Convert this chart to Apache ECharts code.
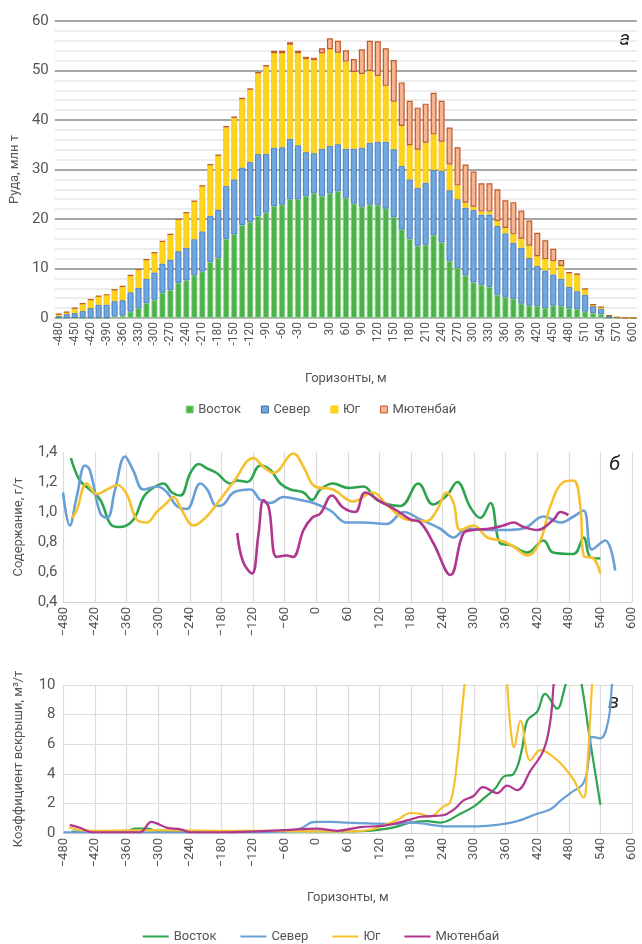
<!DOCTYPE html>
<html><head><meta charset="utf-8">
<script src="https://cdn.jsdelivr.net/npm/echarts@6/dist/echarts.min.js"></script>
<style>html,body{margin:0;padding:0;background:#fff}#c{width:642px;height:944px}</style>
</head><body><div id="c"></div>
<script>
// Горизонты (категории верхнего графика), м
const horizons = [-480,-465,-450,-435,-420,-405,-390,-375,-360,-345,-330,-315,-300,-285,-270,-255,-240,-225,-210,-195,-180,-165,-150,-135,-120,-105,-90,-75,-60,-45,-30,-15,0,15,30,45,60,75,90,105,120,135,150,165,180,195,210,225,240,255,270,285,300,315,330,345,360,375,390,405,420,435,450,465,480,495,510,525,540,555,570,585,600];
// Руда, млн т (сегменты стека)
const oreVostok = [0,0,0,0,0,0,0,0.3,0.5,1.3,2.0,3.0,3.7,5.1,5.7,7.1,7.6,8.6,9.4,11.3,12.1,16.0,16.9,18.8,19.4,20.6,21.3,22.6,22.9,24.0,24.0,24.6,25.2,24.6,25.2,25.6,24.2,23.1,22.5,22.9,22.8,22.1,20.4,17.9,16.0,14.6,14.8,16.7,15.3,11.5,10.1,8.6,7.2,6.7,6.3,4.7,4.2,3.9,2.9,2.5,2.4,2.0,2.5,2.4,2.0,1.8,1.3,1.0,0.8,0,0,0,0];
const oreSever = [0.4,0.8,1.0,1.4,2.0,2.7,2.7,3.1,3.1,3.9,4.1,4.9,5.5,5.9,6.1,6.4,6.6,7.3,8.1,9.3,9.8,10.7,11.1,11.6,12.1,12.5,11.9,11.8,11.6,12.2,10.9,8.9,8.1,9.6,9.6,9.5,10.0,11.1,11.9,12.5,12.8,13.5,13.7,12.8,12.0,11.7,12.5,13.2,14.4,14.3,13.9,13.7,14.6,14.2,14.6,13.9,12.9,11.3,11.3,9.6,8.1,7.6,6.3,5.5,4.3,3.6,3.4,1.4,1.0,0.5,0.15,0,0];
const oreYug = [0.4,0.4,1.0,1.5,1.7,1.7,2.0,2.3,2.8,3.4,3.7,3.9,4.0,4.5,5.1,6.4,7.1,7.7,9.2,10.4,11.0,11.8,12.4,13.8,14.6,16.3,17.6,19.1,19.0,19.0,18.6,18.8,18.8,19.3,19.5,18.5,17.6,15.5,14.9,14.5,13.3,11.3,9.6,8.1,6.9,7.7,8.1,7.2,5.9,5.2,2.8,1.0,0.7,0.6,0.6,1.0,1.1,1.7,1.8,2.5,2.0,2.3,2.7,2.6,2.7,3.3,1.2,0.3,0.4,0,0,0,0];
const oreMyuten = [0,0,0,0,0,0,0,0,0,0,0,0,0,0,0,0,0,0,0,0,0,0.3,0.3,0.3,0.3,0.3,0.3,0.5,0.5,0.5,0.5,0.5,0.5,1.0,2.2,2.4,2.3,2.6,5.0,6.1,7.0,7.6,8.4,8.8,9.0,8.5,7.9,8.4,8.3,7.5,7.7,7.7,7.1,5.7,5.7,6.4,5.6,6.5,5.7,5.1,4.7,3.8,2.5,1.2,0.3,0.3,0,0,0,0,0,0,0];

// Содержание, г/т  [горизонт, значение]
const gradeVostok = [[-466,1.36],[-449,1.21],[-430,1.15],[-410,1.08],[-388,0.91],[-372,0.90],[-347,0.95],[-328,1.10],[-310,1.16],[-290,1.19],[-274,1.13],[-258,1.11],[-239,1.26],[-223,1.32],[-207,1.29],[-189,1.26],[-163,1.19],[-150,1.21],[-131,1.20],[-106,1.31],[-87,1.28],[-68,1.19],[-49,1.15],[-24,1.13],[-8,1.08],[8,1.15],[32,1.19],[61,1.16],[90,1.17],[116,1.08],[160,1.04],[194,1.19],[222,1.05],[248,1.11],[268,1.20],[293,1.03],[312,0.96],[331,1.06],[350,0.79],[369,0.78],[401,0.73],[432,0.81],[450,0.73],[489,0.72],[508,0.83],[521,0.70],[540,0.69]];
const gradeSever = [[-481,1.13],[-468,0.91],[-455,1.10],[-439,1.31],[-430,1.28],[-410,0.99],[-397,0.96],[-382,1.15],[-363,1.37],[-348,1.28],[-328,1.15],[-302,1.17],[-283,1.13],[-265,1.04],[-246,1.02],[-220,1.19],[-207,1.15],[-189,1.04],[-176,1.05],[-157,1.13],[-125,1.15],[-106,1.08],[-87,1.06],[-62,1.10],[-30,1.08],[-5,1.06],[27,1.01],[58,0.93],[90,0.93],[134,0.92],[166,1.00],[198,0.95],[235,0.89],[261,0.83],[286,0.89],[325,0.88],[356,0.88],[394,0.89],[432,0.97],[464,0.93],[489,0.97],[508,1.01],[524,0.75],[549,0.81],[568,0.61]];
const gradeYug = [[-464,0.96],[-455,1.01],[-436,1.19],[-417,1.12],[-397,1.15],[-378,1.18],[-360,1.12],[-341,0.95],[-322,0.93],[-303,1.00],[-284,1.06],[-271,1.10],[-255,1.01],[-233,0.91],[-208,0.97],[-183,1.08],[-157,1.20],[-119,1.36],[-100,1.30],[-81,1.26],[-43,1.39],[-24,1.30],[-2,1.17],[32,1.15],[70,1.07],[108,1.13],[134,1.05],[172,0.95],[210,0.94],[229,1.01],[248,1.13],[261,1.06],[274,0.88],[299,0.91],[325,0.83],[350,0.81],[375,0.77],[401,0.71],[426,0.81],[445,1.04],[470,1.20],[489,1.21],[502,1.03],[508,0.71],[527,0.69],[540,0.59]];
const gradeMyuten = [[-150,0.86],[-139,0.67],[-122,0.59],[-110,0.84],[-100,1.08],[-90,1.03],[-75,0.70],[-56,0.71],[-44,0.70],[-24,0.88],[-8,0.96],[8,0.99],[30,1.11],[51,1.03],[74,1.00],[93,1.13],[122,1.07],[153,1.01],[179,0.95],[198,0.93],[223,0.79],[255,0.58],[280,0.86],[299,0.88],[331,0.89],[356,0.91],[375,0.93],[394,0.90],[420,0.88],[451,0.95],[464,1.00],[479,0.98]];

// Коэффициент вскрыши, м3/т  [горизонт, значение]
const stripVostok = [[-465,0.1],[-420,0.1],[-360,0.1],[-345,0.3],[-320,0.3],[-300,0.1],[-240,0.1],[-120,0.1],[0,0.1],[60,0.1],[114,0.2],[150,0.4],[179,0.7],[210,0.8],[236,0.7],[274,1.3],[300,1.8],[317,2.3],[340,3.0],[356,3.8],[375,4.0],[390,5.5],[401,7.6],[420,8.2],[435,9.4],[458,8.4],[470,9.5],[477,10.5],[490,12],[502,10.5],[521,6.1],[540,1.9]];
const stripSever = [[-480,0.05],[-360,0.05],[-240,0.05],[-120,0.05],[-60,0.1],[-30,0.3],[-10,0.7],[0,0.75],[30,0.75],[60,0.7],[100,0.65],[150,0.6],[179,0.7],[210,0.6],[242,0.45],[306,0.45],[344,0.55],[382,0.8],[420,1.3],[445,1.6],[465,2.2],[483,2.7],[508,3.4],[518,5.0],[524,6.5],[540,6.4],[555,7.6],[562,10],[570,12]];
const stripYug = [[-470,0.4],[-450,0.2],[-420,0.15],[-300,0.2],[-180,0.15],[-60,0.15],[0,0.1],[60,0.1],[100,0.2],[127,0.5],[155,0.9],[179,1.35],[198,1.3],[215,1.1],[241,1.77],[255,2.1],[268,4.9],[277,8.3],[283,10.5],[290,14],[355,14],[363,10],[369,7.2],[376,5.8],[388,7.6],[407,4.9],[426,5.6],[445,5.3],[470,4.5],[489,3.6],[508,2.4],[514,4.0],[524,10],[530,14]];
const stripMyuten = [[-468,0.55],[-449,0.35],[-424,0.05],[-380,0.05],[-335,0.05],[-313,0.75],[-303,0.65],[-283,0.35],[-258,0.25],[-239,0.05],[-180,0.05],[-120,0.1],[-60,0.2],[0,0.3],[40,0.15],[84,0.4],[130,0.5],[179,0.9],[198,1.1],[241,1.2],[262,1.6],[280,2.2],[299,2.5],[317,3.1],[344,2.7],[363,3.2],[382,2.9],[407,4.2],[432,5.6],[445,7.6],[451,10],[460,13]];

const names = ['Восток','Север','Юг','Мютенбай'];
const FONT = "'Roboto',sans-serif";
const TXT = '#555';
const lineColors = ['#2ea44f','#6a9fd6','#f6c131','#b0368e'];
const barFill = ['#4db24a','#6fa7df','#ffd41e','#f6b591'];
const barBorder = ['#88d585','#3e70b4','#f8cc10','#c2592a'];
const minus = v => String(v).replace('-', '\u2212');
const comma = v => v.toFixed(1).replace('.', ',');

const chart = echarts.init(document.getElementById('c'), null, {renderer:'canvas'});
const barData = [oreVostok, oreSever, oreYug, oreMyuten];
const gradeData = [gradeVostok, gradeSever, gradeYug, gradeMyuten];
const stripData = [stripVostok, stripSever, stripYug, stripMyuten];

const series = [];
names.forEach((n,i)=>series.push({
  name:n, type:'bar', stack:'ore', xAxisIndex:0, yAxisIndex:0, data:barData[i],
  barCategoryGap:'25%',
  itemStyle:{color:barFill[i], borderColor:barBorder[i], borderWidth: i===3?1.2:0.8},
  emphasis:{disabled:true}
}));
names.forEach((n,i)=>series.push({
  name:n, type:'line', xAxisIndex:1, yAxisIndex:1, data:gradeData[i], smooth:0.4,
  showSymbol:false, lineStyle:{color:lineColors[i], width:2.6}, itemStyle:{color:lineColors[i]}
}));
names.forEach((n,i)=>series.push({
  name:n, type:'line', xAxisIndex:2, yAxisIndex:2, data:stripData[i], smooth:0.4,
  showSymbol:false, clip:true, lineStyle:{color:lineColors[i], width:2.2}, itemStyle:{color:lineColors[i]}
}));

const valX = (gi) => ({
  type:'value', gridIndex:gi, min:-480, max:600, interval:60,
  axisLine:{show:true, lineStyle:{color:'#d0d0d0'}}, axisTick:{show:false},
  axisLabel:{rotate:90, fontSize:13, color:TXT, fontFamily:FONT, margin:5, formatter:minus},
  splitLine:{show:true, lineStyle:{color:'#dcdcdc', width:1.2}}
});

chart.setOption({
  animation:false,
  textStyle:{fontFamily:FONT},
  grid:[
    {left:53, right:5, top:21, bottom:626},
    {left:63.5, right:10, top:452, bottom:342},
    {left:63.5, right:10, top:685, bottom:111}
  ],
  legend:[
    {top:398, left:'center', icon:'rect', itemWidth:7, itemHeight:7, itemGap:20,
     textStyle:{fontSize:13, color:TXT, fontFamily:FONT},
     data:names.map((n,i)=>({name:n, itemStyle:{color:barFill[i], borderColor:barBorder[i], borderWidth:1}}))},
    {top:925, left:'center', icon:'rect', itemWidth:26, itemHeight:2, itemGap:24,
     textStyle:{fontSize:13, color:TXT, fontFamily:FONT},
     data:names.map((n,i)=>({name:n, itemStyle:{color:lineColors[i], borderWidth:0}}))}
  ],
  xAxis:[
    {type:'category', gridIndex:0, data:horizons,
     axisLine:{show:true, lineStyle:{color:'#bbb'}}, axisTick:{show:false},
     axisLabel:{interval:1, rotate:90, fontSize:12, color:TXT, fontFamily:FONT, margin:4},
     name:'Горизонты, м', nameLocation:'middle', nameGap:54,
     nameTextStyle:{fontSize:13, color:TXT, fontFamily:FONT}},
    valX(1),
    Object.assign(valX(2), {name:'Горизонты, м', nameLocation:'middle', nameGap:58,
     nameTextStyle:{fontSize:13, color:TXT, fontFamily:FONT}})
  ],
  yAxis:[
    {type:'value', gridIndex:0, min:0, max:60, interval:10,
     axisLine:{show:false}, axisTick:{show:false},
     axisLabel:{fontSize:15, color:TXT, fontFamily:FONT, margin:6},
     splitLine:{lineStyle:{color:'#8a8a8a', width:1.5}},
     minorTick:{show:false, splitNumber:5},
     minorSplitLine:{show:true, lineStyle:{color:'#e8e8e8', width:1.5}},
     name:'Руда, млн т', nameLocation:'middle', nameGap:31,
     nameTextStyle:{fontSize:13, color:TXT, fontFamily:FONT}},
    {type:'value', gridIndex:1, min:0.4, max:1.4, interval:0.2,
     axisLine:{show:false}, axisTick:{show:false}, splitLine:{show:false},
     axisLabel:{fontSize:15, color:TXT, fontFamily:FONT, margin:6, formatter:comma},
     name:'Содержание, г/т', nameLocation:'middle', nameGap:38,
     nameTextStyle:{fontSize:13, color:TXT, fontFamily:FONT}},
    {type:'value', gridIndex:2, min:0, max:10, interval:2,
     axisLine:{show:false}, axisTick:{show:false},
     splitLine:{show:true, lineStyle:{color:'#dcdcdc', width:1.2}},
     axisLabel:{fontSize:15, color:TXT, fontFamily:FONT, margin:8},
     name:'Коэффициент вскрыши, м³/т', nameLocation:'middle', nameGap:38,
     nameTextStyle:{fontSize:13, color:TXT, fontFamily:FONT}}
  ],
  graphic:[
    {type:'text', right:12, top:30, style:{text:'а', font:'italic 20px '+FONT, fill:'#222'}},
    {type:'text', right:22, top:455, style:{text:'б', font:'italic 20px '+FONT, fill:'#222'}},
    {type:'rect', shape:{x:602, y:693, width:26, height:28}, style:{fill:'#fff'}},
    {type:'text', right:23, top:693, style:{text:'в', font:'italic 20px '+FONT, fill:'#222'}}
  ],
  series:series
});
</script></body></html>
